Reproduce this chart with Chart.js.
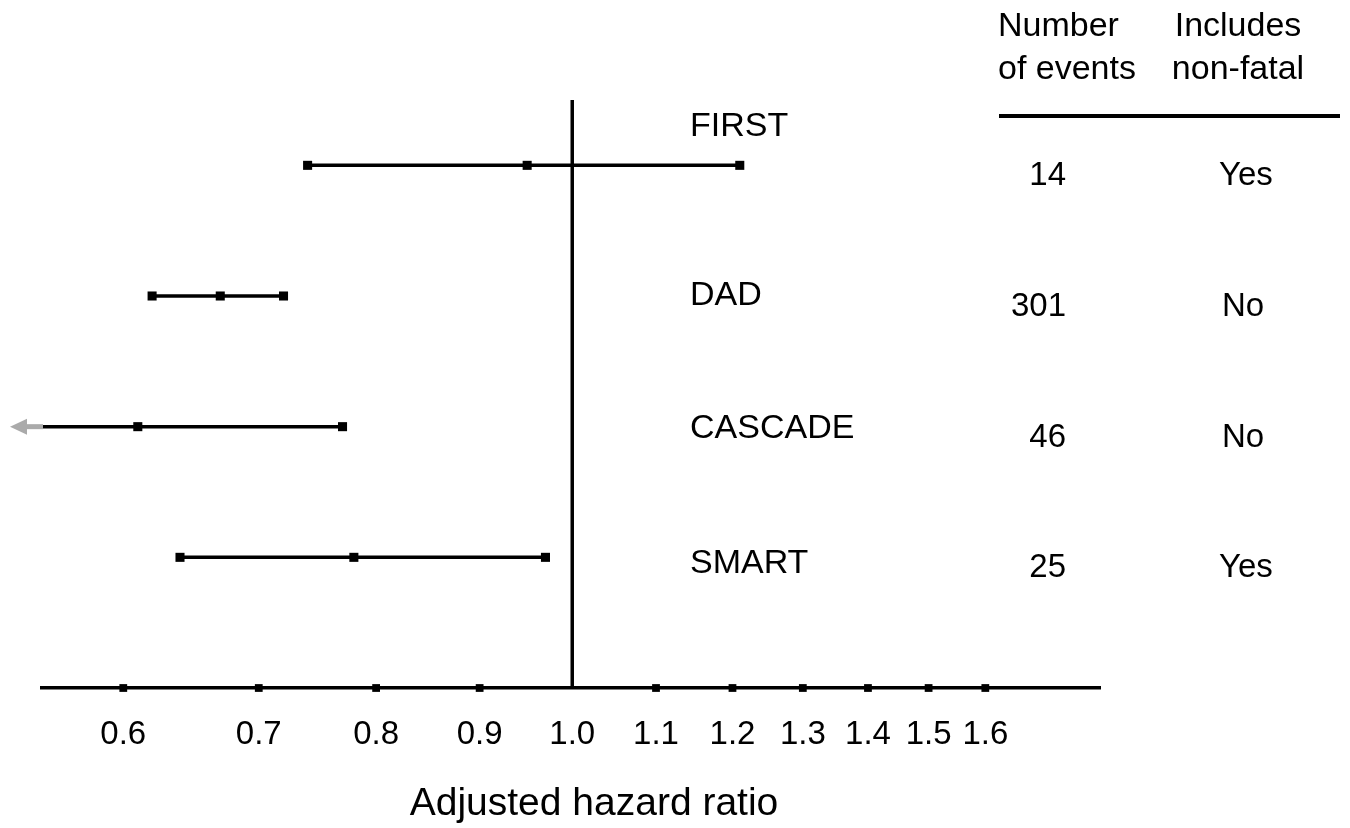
<!DOCTYPE html>
<html>
<head>
<meta charset="utf-8">
<script src="https://cdn.jsdelivr.net/npm/chart.js@4/dist/chart.umd.min.js"></script>
<style>
  html, body { margin: 0; padding: 0; background: #fff; }
  #wrap { width: 1350px; height: 828px; }
</style>
</head>
<body>
<div id="wrap"><canvas id="c" width="1350" height="828"></canvas></div>
<script>
// ---- data ----
const studies = ['FIRST', 'DAD', 'CASCADE', 'SMART'];
const rows = [4, 3, 2, 1];
const estimates = [0.95, 0.67, 0.61, 0.78];
const lowerCI = [0.74, 0.62, 0.50, 0.64];   // CASCADE lower bound lies off-scale (arrow)
const upperCI = [1.21, 0.72, 0.77, 0.97];
const numberOfEvents = ['14', '301', '46', '25'];
const includesNonFatal = ['Yes', 'No', 'No', 'Yes'];
const tickValues = [0.6, 0.7, 0.8, 0.9, 1.0, 1.1, 1.2, 1.3, 1.4, 1.5, 1.6];
const referenceValue = 1.0;
const xMin = 0.547, xMax = 1.823;
const yMin = 0, yMax = 4.5;
const axisTitle = 'Adjusted hazard ratio';
const headerEvents = ['Number', 'of events'];
const headerNonFatal = ['Includes', 'non-fatal'];

const FONT = '"Liberation Sans", Arial, Helvetica, sans-serif';

// ---- datasets ----
const datasets = [];
// reference line at HR = 1
datasets.push({
  type: 'line',
  data: [{ x: referenceValue, y: yMin }, { x: referenceValue, y: yMax }],
  borderColor: '#000', borderWidth: 3.5, pointRadius: 0, clip: false
});
// CI lines with markers
studies.forEach((s, i) => {
  datasets.push({
    type: 'line',
    label: s,
    data: [
      { x: lowerCI[i], y: rows[i] },
      { x: estimates[i], y: rows[i] },
      { x: upperCI[i], y: rows[i] }
    ],
    borderColor: '#000', borderWidth: 3.5,
    pointStyle: 'rect', pointRadius: 6.4, pointBorderWidth: 0,
    pointBackgroundColor: '#000'
  });
});
// tick markers on the axis (none where the reference line meets it)
datasets.push({
  type: 'scatter',
  data: tickValues.filter(v => v !== referenceValue).map(v => ({ x: v, y: yMin })),
  pointStyle: 'rect', pointRadius: 5.5, pointBorderWidth: 0,
  pointBackgroundColor: '#000', showLine: false, clip: false
});

// ---- annotation plugin ----
const annotations = {
  id: 'annotations',
  afterDatasetsDraw(chart) {
    const { ctx, chartArea, scales } = chart;
    const xs = scales.x, ys = scales.y;
    ctx.save();
    // off-scale arrow for CASCADE lower bound
    studies.forEach((s, i) => {
      if (lowerCI[i] < xMin) {
        const y = ys.getPixelForValue(rows[i]);
        const x0 = chartArea.left;
        ctx.fillStyle = '#aaaaaa';
        ctx.fillRect(x0 - 16, y - 2.5, 17, 5);
        ctx.beginPath();
        ctx.moveTo(x0 - 15, y - 8);
        ctx.lineTo(x0 - 32, y);
        ctx.lineTo(x0 - 15, y + 8);
        ctx.closePath();
        ctx.fill();
      }
    });
    ctx.fillStyle = '#000';
    ctx.textBaseline = 'middle';
    // study labels
    const labelDy = [-39, 0, 2, 6];
    ctx.font = '34px ' + FONT;
    ctx.textAlign = 'left';
    studies.forEach((s, i) => {
      ctx.fillText(s, 690, ys.getPixelForValue(rows[i]) + labelDy[i]);
    });
    // right columns
    ctx.font = '33px ' + FONT;
    studies.forEach((s, i) => {
      const y = ys.getPixelForValue(rows[i]) + 11;
      ctx.textAlign = 'right';
      ctx.fillText(numberOfEvents[i], 1066, y);
      ctx.textAlign = 'left';
      ctx.fillText(includesNonFatal[i], includesNonFatal[i] === 'Yes' ? 1219 : 1222, y);
    });
    // headers
    ctx.font = '34px ' + FONT;
    ctx.textAlign = 'left';
    ctx.fillText(headerEvents[0], 998, 27);
    ctx.fillText(headerEvents[1], 998, 70);
    ctx.textAlign = 'center';
    ctx.fillText(headerNonFatal[0], 1238, 27);
    ctx.fillText(headerNonFatal[1], 1238, 70);
    // header rule
    ctx.fillRect(999, 114, 341, 4);
    // axis title
    ctx.font = '39px ' + FONT;
    ctx.textAlign = 'center';
    ctx.fillText(axisTitle, 594, 804);
    ctx.restore();
  }
};

new Chart(document.getElementById('c'), {
  data: { datasets },
  options: {
    responsive: false,
    animation: false,
    devicePixelRatio: 1,
    layout: { padding: { left: 42, right: 250, top: 100, bottom: 0 } },
    plugins: { legend: { display: false }, tooltip: { enabled: false } },
    scales: {
      x: {
        type: 'logarithmic',
        min: xMin, max: xMax,
        afterBuildTicks: (scale) => { scale.ticks = tickValues.map(v => ({ value: v })); },
        afterFit: (scale) => { scale.height = 140; },
        grid: { display: false, drawTicks: false },
        border: { display: true, color: '#000', width: 3.5 },
        ticks: {
          autoSkip: false, maxRotation: 0, padding: 27,
          color: '#000',
          font: { family: FONT, size: 33 },
          callback: (v) => Number(v).toFixed(1)
        },
        title: { display: false }
      },
      y: {
        type: 'linear', min: yMin, max: yMax, display: false
      }
    }
  },
  plugins: [annotations]
});
</script>
</body>
</html>
